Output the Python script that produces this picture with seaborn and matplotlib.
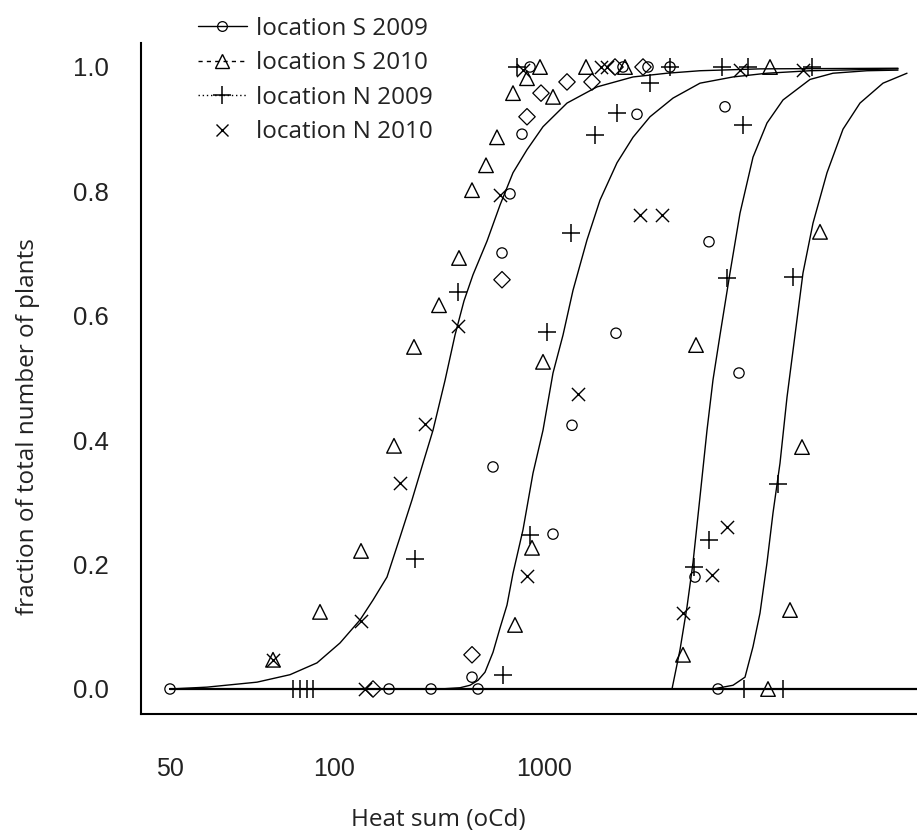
import numpy as np
import pandas as pd
import matplotlib
matplotlib.use("Agg")
import matplotlib.pyplot as plt
from matplotlib.lines import Line2D
import seaborn as sns

# ---------------- data (x = position on the heat-sum axis, y = fraction) ----------------
XTICK_POS = [1.70, 3.34, 5.44]
XTICK_LABELS = ["50", "100", "1000"]
YTICKS = [0.0, 0.2, 0.4, 0.6, 0.8, 1.0]
YTICK_LABELS = ["0.0", "0.2", "0.4", "0.6", "0.8", "1.0"]

s2009_x = [1.70, 3.89, 4.31, 4.78, 4.72, 4.93, 5.02, 5.10, 5.22, 5.30, 5.53, 5.72, 6.16,
           6.23, 6.37, 6.48, 6.70, 6.95, 7.09, 7.18, 7.25, 7.39]
s2009_y = [0.0, 0.0, 0.0, 0.0, 0.019, 0.357, 0.701, 0.796, 0.892, 1.0, 0.249, 0.424, 0.572,
           1.0, 0.924, 1.0, 1.0, 0.18, 0.719, 0.0, 0.936, 0.508]

s2010_x = [2.73, 3.20, 3.61, 3.94, 4.14, 4.39, 4.59, 4.72, 4.86, 4.97, 5.13, 5.27, 5.40,
           5.53, 5.15, 5.32, 5.43, 5.86, 6.25, 6.83, 6.96, 7.68, 7.70, 7.90, 8.02, 8.20]
s2010_y = [0.047, 0.124, 0.222, 0.391, 0.55, 0.617, 0.693, 0.802, 0.842, 0.887, 0.958, 0.982, 1.0,
           0.952, 0.103, 0.227, 0.526, 1.0, 1.0, 0.055, 0.553, 0.0, 1.0, 0.127, 0.389, 0.735]

n2009_x = [2.93, 3.00, 3.07, 3.13, 4.15, 4.58, 5.03, 5.17, 5.30, 5.47, 5.71, 5.95, 6.17,
           6.50, 6.70, 6.94, 7.09, 7.22, 7.27, 7.43, 7.44, 7.48, 7.78, 7.83, 7.93, 8.12]
n2009_y = [0.0, 0.0, 0.0, 0.0, 0.209, 0.638, 0.022, 1.0, 0.248, 0.574, 0.733, 0.891, 0.926,
           0.974, 1.0, 0.196, 0.24, 1.0, 0.661, 0.907, 0.0, 1.0, 0.33, 0.0, 0.662, 1.0]

n2010_x = [2.73, 3.61, 3.65, 4.00, 4.25, 4.58, 5.00, 5.23, 5.27, 5.78, 6.01, 6.07, 6.40,
           6.62, 6.83, 7.12, 7.27, 7.40, 8.03]
n2010_y = [0.047, 0.109, 0.0, 0.331, 0.426, 0.584, 0.794, 0.995, 0.182, 0.474, 1.0, 1.0, 0.762,
           0.762, 0.122, 0.183, 0.26, 0.995, 0.995]

# unlabelled series (diamonds)
other_x = [3.73, 4.72, 5.02, 5.27, 5.41, 5.67, 5.92, 6.15, 6.43]
other_y = [0.0, 0.055, 0.658, 0.92, 0.958, 0.976, 0.976, 1.0, 1.0]

# fitted curves
curve1_x = [1.70, 2.07, 2.57, 2.90, 3.17, 3.40, 3.60, 3.73, 3.87, 4.00, 4.12, 4.23, 4.33, 4.45,
            4.55, 4.64, 4.73, 4.87, 5.00, 5.13, 5.27, 5.43, 5.67, 5.97, 6.33, 6.67, 7.00, 7.60, 8.98]
curve1_y = [0.0, 0.003, 0.011, 0.023, 0.042, 0.074, 0.111, 0.143, 0.180, 0.244, 0.304, 0.363, 0.416,
            0.496, 0.569, 0.624, 0.666, 0.72, 0.778, 0.83, 0.867, 0.904, 0.942, 0.968, 0.984, 0.990,
            0.994, 0.997, 0.998]

curve2_x = [1.70, 4.40, 4.60, 4.70, 4.78, 4.85, 4.93, 5.00, 5.07, 5.13, 5.23, 5.33, 5.43, 5.53,
            5.63, 5.73, 5.87, 6.00, 6.17, 6.33, 6.50, 6.73, 7.00, 7.33, 7.67, 8.10, 8.98]
curve2_y = [0.0, 0.0, 0.002, 0.006, 0.014, 0.027, 0.059, 0.098, 0.135, 0.186, 0.256, 0.347, 0.416,
            0.508, 0.569, 0.641, 0.722, 0.786, 0.846, 0.887, 0.92, 0.95, 0.974, 0.984, 0.990, 0.994,
            0.997]

curve3_x = [1.70, 6.72, 6.80, 6.87, 6.93, 7.00, 7.07, 7.13, 7.20, 7.30, 7.40, 7.53, 7.67, 7.83,
            8.10, 8.33, 8.67, 8.98]
curve3_y = [0.0, 0.0, 0.063, 0.132, 0.203, 0.309, 0.416, 0.497, 0.569, 0.669, 0.765, 0.855, 0.91,
            0.947, 0.98, 0.990, 0.994, 0.995]

curve4_x = [1.70, 7.13, 7.33, 7.45, 7.53, 7.60, 7.67, 7.73, 7.80, 7.87, 7.95, 8.03, 8.13, 8.27,
            8.43, 8.60, 8.83, 9.07]
curve4_y = [0.0, 0.0, 0.006, 0.019, 0.068, 0.122, 0.203, 0.283, 0.363, 0.469, 0.569, 0.669, 0.749,
            0.830, 0.9, 0.942, 0.974, 0.990]

baseline_x = [1.70, 9.17]
baseline_y = [0.0, 0.0]

LEGEND_LABELS = ["location S 2009", "location S 2010", "location N 2009", "location N 2010"]

# ---------------- plotting ----------------
sns.set_theme(style="white")
plt.rcParams["font.family"] = ["Liberation Sans", "DejaVu Sans"]

W, H = 917, 834
fig = plt.figure(figsize=(W / 100, H / 100), dpi=100)
ax = fig.add_axes([141 / W, 120 / H, 776 / W, 671 / H])

for cx, cy in [(curve1_x, curve1_y), (curve2_x, curve2_y),
               (curve3_x, curve3_y), (curve4_x, curve4_y)]:
    sns.lineplot(data=pd.DataFrame({"x": cx, "y": cy}), x="x", y="y", sort=False,
                 estimator=None, color="black", lw=1.0, ax=ax)

sns.lineplot(data=pd.DataFrame({"x": baseline_x, "y": baseline_y}), x="x", y="y",
             sort=False, estimator=None, color="black", lw=1.6, ax=ax)

sns.scatterplot(x=s2009_x, y=s2009_y, marker="o", s=55, facecolors="none",
                edgecolor="black", linewidth=0.9, ax=ax, zorder=3)
sns.scatterplot(x=s2010_x, y=s2010_y, marker="^", s=110, facecolors="none",
                edgecolor="black", linewidth=1.0, ax=ax, zorder=3)
sns.scatterplot(x=n2009_x, y=n2009_y, marker="+", s=170, color="black",
                linewidth=1.1, ax=ax, zorder=3)
sns.scatterplot(x=n2010_x, y=n2010_y, marker="x", s=90, color="black",
                linewidth=1.0, ax=ax, zorder=3)
sns.scatterplot(x=other_x, y=other_y, marker="D", s=70, facecolors="none",
                edgecolor="black", linewidth=0.9, ax=ax, zorder=3)

ax.set_xlim(1.41, 9.17)
ax.set_ylim(-25 / 622, 1 + 24 / 622)
ax.set_xticks(XTICK_POS)
ax.set_xticklabels(XTICK_LABELS)
ax.set_yticks(YTICKS)
ax.set_yticklabels(YTICK_LABELS)

for side in ["top", "right"]:
    ax.spines[side].set_visible(False)
for side in ["left", "bottom"]:
    ax.spines[side].set_color("black")
    ax.spines[side].set_linewidth(1.5)

ax.tick_params(axis="both", direction="out", length=11, width=1.5, color="black",
               labelcolor="#222222")
ax.tick_params(axis="x", pad=20, labelsize=18)
ax.tick_params(axis="y", pad=12, labelsize=18.5)
ax.grid(False)

lab_font = dict(family=["Open Sans", "DejaVu Sans"], size=17.5, color="#222222")
ax.set_xlabel("Heat sum (oCd)", va="center", **lab_font)
ax.xaxis.set_label_coords((438 - 141) / 776, (714 - 820) / 671)
ax.set_ylabel("fraction of total number of plants", va="center", **lab_font)
ax.yaxis.set_label_coords((28 - 141) / 776, (714 - 427) / 671)

handles = [
    Line2D([0], [0], color="black", lw=1.0, ls="-", marker="o", ms=7,
           mfc="none", mec="black", mew=0.9),
    Line2D([0], [0], color="black", lw=1.0, ls=(0, (3, 3)), marker="^", ms=10,
           mfc="none", mec="black", mew=1.0),
    Line2D([0], [0], color="black", lw=1.0, ls=(0, (1, 2)), marker="+", ms=13,
           mec="black", mew=1.1),
    Line2D([0], [0], color="none", lw=0, marker="x", ms=9, mec="black", mew=1.0),
]
fig.legend(handles, LEGEND_LABELS, loc="upper left", bbox_to_anchor=(198 / W, 1 - 17 / H),
           frameon=False, borderpad=0, borderaxespad=0, handlelength=2.0,
           handletextpad=0.38, labelspacing=0.43,
           prop=dict(family=["Open Sans", "DejaVu Sans"], size=17.5), labelcolor="#222222")

fig.savefig("out.png", dpi=100, facecolor="white")
